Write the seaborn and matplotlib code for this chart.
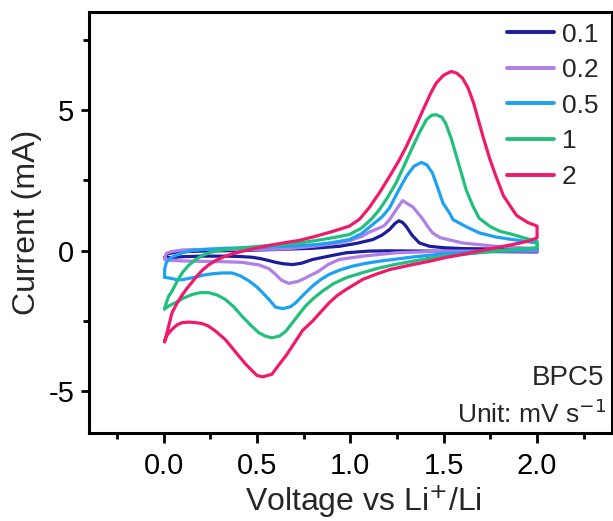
import numpy as np
import pandas as pd
import matplotlib
matplotlib.use("Agg")
import matplotlib.pyplot as plt
import seaborn as sns
from matplotlib.ticker import MultipleLocator, FixedLocator

rates = ["0.1", "0.2", "0.5", "1", "2"]
colors = ["#1c1c9c", "#b07fe8", "#1da1f2", "#22c07c", "#ef1a6b"]

# scan rate 0.1 mV/s (anodic branch, then cathodic branch)
v01 = [0.005, 0.02, 0.07, 0.2, 0.4, 0.618, 0.8, 0.94, 1.03, 1.12, 1.17, 1.21, 1.24, 1.26, 1.28, 1.30, 1.33, 1.37, 1.425, 1.5, 1.6, 1.8, 2.0,
       2.0, 1.8, 1.6, 1.4, 1.2, 1.1, 0.977, 0.9, 0.797, 0.74, 0.69, 0.64, 0.6, 0.565, 0.52, 0.475, 0.4, 0.33, 0.2, 0.1, 0.04, 0.005]
i01 = [-0.25, -0.12, -0.05, -0.02, 0.0, 0.04, 0.08, 0.15, 0.25, 0.39, 0.55, 0.75, 0.97, 1.06, 1.0, 0.85, 0.55, 0.27, 0.15, 0.1, 0.07, 0.05, 0.04,
       -0.05, -0.04, -0.03, -0.02, -0.01, -0.02, -0.08, -0.18, -0.32, -0.45, -0.5, -0.47, -0.42, -0.36, -0.29, -0.24, -0.21, -0.2, -0.2, -0.22, -0.25, -0.25]

# scan rate 0.2 mV/s
v02 = [0.005, 0.015, 0.04, 0.1, 0.2, 0.45, 0.636, 0.80, 0.94, 1.0, 1.06, 1.10, 1.14, 1.18, 1.21, 1.245, 1.28, 1.31, 1.335, 1.36, 1.39, 1.415, 1.44, 1.48, 1.6, 1.78, 2.0,
       2.0, 1.8, 1.5, 1.245, 1.066, 0.94, 0.88, 0.83, 0.797, 0.76, 0.72, 0.67, 0.63, 0.6, 0.565, 0.51, 0.457, 0.42, 0.33, 0.24, 0.1, 0.04, 0.005]
i02 = [-0.3, -0.1, -0.04, 0.02, 0.04, 0.04, 0.05, 0.15, 0.27, 0.36, 0.5, 0.65, 0.76, 0.88, 1.1, 1.45, 1.78, 1.65, 1.55, 1.35, 1.1, 0.85, 0.63, 0.46, 0.27, 0.15, 0.06,
       -0.02, -0.02, -0.02, -0.08, -0.2, -0.32, -0.5, -0.74, -0.85, -0.98, -1.1, -1.17, -1.05, -0.85, -0.65, -0.51, -0.46, -0.42, -0.4, -0.39, -0.37, -0.35, -0.3]

# scan rate 0.5 mV/s
v05 = [0.005, 0.006, 0.015, 0.04, 0.063, 0.1, 0.152, 0.24, 0.33, 0.45, 0.547, 0.68, 0.815, 0.90, 0.995, 1.06, 1.12, 1.17, 1.21, 1.255, 1.30, 1.34, 1.38, 1.41, 1.44, 1.47, 1.496, 1.53, 1.55, 1.62, 1.69, 1.78, 1.87, 2.0,
       2.0, 1.87, 1.69, 1.51, 1.335, 1.156, 1.08, 1.01, 0.95, 0.887, 0.84, 0.797, 0.75, 0.708, 0.68, 0.64, 0.60, 0.565, 0.53, 0.50, 0.457, 0.41, 0.367, 0.31, 0.26, 0.21, 0.17, 0.13, 0.098, 0.07, 0.045, 0.02, 0.005]
i05 = [-0.95, -0.65, -0.42, -0.25, -0.18, -0.08, 0.0, 0.05, 0.08, 0.1, 0.12, 0.16, 0.21, 0.28, 0.39, 0.6, 0.93, 1.2, 1.52, 2.1, 2.64, 3.0, 3.14, 3.05, 2.76, 2.2, 1.69, 1.35, 1.1, 0.85, 0.63, 0.48, 0.39, 0.27,
       0.04, 0.0, -0.04, -0.11, -0.23, -0.38, -0.46, -0.56, -0.68, -0.85, -1.04, -1.27, -1.57, -1.86, -2.0, -2.07, -2.02, -1.75, -1.5, -1.3, -1.08, -0.9, -0.8, -0.8, -0.83, -0.88, -0.95, -1.0, -1.04, -1.04, -1.0, -0.97, -0.95]

# scan rate 1 mV/s
v1 = [0.005, 0.015, 0.027, 0.045, 0.08, 0.105, 0.134, 0.17, 0.206, 0.25, 0.296, 0.36, 0.42, 0.565, 0.64, 0.726, 0.81, 0.90, 0.995, 1.06, 1.11, 1.156, 1.20, 1.245, 1.29, 1.335, 1.37, 1.407, 1.435, 1.46, 1.49, 1.51, 1.54, 1.568, 1.595, 1.62, 1.655, 1.69, 1.75, 1.80, 1.87, 1.93, 2.0,
      2.0, 1.87, 1.78, 1.69, 1.60, 1.51, 1.42, 1.335, 1.245, 1.156, 1.07, 0.977, 0.91, 0.85, 0.80, 0.76, 0.71, 0.654, 0.62, 0.58, 0.545, 0.51, 0.465, 0.42, 0.375, 0.33, 0.285, 0.24, 0.195, 0.152, 0.105, 0.063, 0.03, 0.005]
i1 = [-2.08, -1.85, -1.63, -1.45, -1.0, -0.75, -0.53, -0.33, -0.18, -0.07, 0.0, 0.06, 0.1, 0.18, 0.22, 0.27, 0.35, 0.45, 0.57, 0.8, 1.1, 1.46, 1.9, 2.41, 3.05, 3.71, 4.2, 4.66, 4.82, 4.84, 4.75, 4.54, 4.0, 3.36, 2.75, 2.17, 1.6, 1.15, 0.85, 0.69, 0.57, 0.45, 0.33,
      0.1, 0.04, -0.02, -0.08, -0.14, -0.2, -0.28, -0.38, -0.49, -0.62, -0.78, -0.97, -1.18, -1.45, -1.72, -1.98, -2.4, -2.88, -3.05, -3.11, -3.05, -2.93, -2.65, -2.34, -2.0, -1.74, -1.58, -1.5, -1.5, -1.57, -1.7, -1.86, -1.97, -2.08]

# scan rate 2 mV/s
v2 = [0.005, 0.025, 0.045, 0.07, 0.098, 0.125, 0.152, 0.18, 0.206, 0.24, 0.278, 0.32, 0.367, 0.42, 0.475, 0.565, 0.64, 0.726, 0.81, 0.905, 0.995, 1.05, 1.10, 1.155, 1.21, 1.26, 1.30, 1.345, 1.39, 1.43, 1.46, 1.50, 1.54, 1.57, 1.60, 1.63, 1.66, 1.71, 1.745, 1.78, 1.82, 1.855, 1.89, 1.95, 2.0,
      2.0, 1.96, 1.91, 1.85, 1.78, 1.69, 1.60, 1.51, 1.425, 1.32, 1.21, 1.14, 1.066, 0.977, 0.93, 0.887, 0.84, 0.80, 0.744, 0.70, 0.654, 0.62, 0.58, 0.53, 0.50, 0.475, 0.44, 0.403, 0.365, 0.33, 0.28, 0.24, 0.205, 0.17, 0.135, 0.098, 0.07, 0.045, 0.02, 0.005]
i2 = [-3.26, -2.75, -2.22, -1.9, -1.6, -1.35, -1.13, -0.9, -0.71, -0.52, -0.36, -0.23, -0.12, -0.03, 0.06, 0.18, 0.27, 0.36, 0.5, 0.68, 0.87, 1.12, 1.52, 2.05, 2.64, 3.2, 3.71, 4.35, 5.02, 5.6, 5.97, 6.25, 6.38, 6.32, 6.15, 5.8, 5.26, 4.07, 3.3, 2.64, 1.95, 1.60, 1.25, 1.0, 0.87,
      0.45, 0.35, 0.27, 0.19, 0.1, -0.02, -0.14, -0.25, -0.38, -0.52, -0.68, -0.84, -1.03, -1.39, -1.6, -1.86, -2.2, -2.5, -2.85, -3.3, -3.76, -4.05, -4.41, -4.5, -4.45, -4.29, -4.05, -3.76, -3.45, -3.17, -2.88, -2.69, -2.6, -2.57, -2.55, -2.57, -2.66, -2.81, -3.0, -3.23]

volts = [v01, v02, v05, v1, v2]
currents = [i01, i02, i05, i1, i2]

frames = []
for r, v, c in zip(rates, volts, currents):
    frames.append(pd.DataFrame({"V": v, "I": c, "rate": r, "idx": np.arange(len(v))}))
df = pd.concat(frames, ignore_index=True)

sns.set_theme(style="white")
plt.rcParams["font.family"] = ["Liberation Sans", "DejaVu Sans"]

fig = plt.figure(figsize=(6.13, 5.21), dpi=100)
ax = fig.add_axes([0.145, 0.169, 0.853, 0.808])

sns.lineplot(data=df, x="V", y="I", hue="rate", hue_order=rates,
             palette=dict(zip(rates, colors)), sort=False, estimator=None,
             linewidth=2.3, ax=ax)

ax.set_xlim(-0.4, 2.4)
ax.set_ylim(-6.5, 8.5)
ax.xaxis.set_major_locator(FixedLocator([0.0, 0.5, 1.0, 1.5, 2.0]))
ax.xaxis.set_minor_locator(MultipleLocator(0.25))
ax.yaxis.set_major_locator(FixedLocator([-5, 0, 5]))
ax.yaxis.set_minor_locator(MultipleLocator(2.5))
ax.set_xticklabels(["0.0", "0.5", "1.0", "1.5", "2.0"])
ax.set_yticklabels(["-5", "0", "5"])

ax.tick_params(which="both", direction="out", bottom=True, left=True, top=False, right=False,
               width=2.0, colors="black", labelsize=21)
ax.tick_params(axis="x", which="major", length=7, pad=7)
ax.tick_params(axis="x", which="minor", length=4)
ax.tick_params(axis="y", which="major", length=5.5, pad=5)
ax.tick_params(axis="y", which="minor", length=4.5)
for s in ax.spines.values():
    s.set_linewidth(2.2)
    s.set_color("black")

ax.set_xlabel("Voltage vs Li$^{+}$/Li", fontsize=23)
ax.set_ylabel("Current (mA)", fontsize=23)
ax.xaxis.set_label_coords(0.526, -0.117)
ax.yaxis.set_label_coords(-0.09, 0.5)

sns.move_legend(ax, loc="upper right", bbox_to_anchor=(0.975, 0.975), frameon=False, title=None,
                fontsize=19, handlelength=1.8, handletextpad=0.3, labelspacing=0.44,
                borderaxespad=0, borderpad=0)
for line in ax.get_legend().get_lines():
    line.set_linewidth(2.8)

ax.text(0.985, 0.13, "BPC5", transform=ax.transAxes, ha="right", va="center", fontsize=20)
ax.text(0.99, 0.045, "Unit: mV s$^{-1}$", transform=ax.transAxes, ha="right", va="center", fontsize=19)

fig.savefig("out.png", dpi=100, facecolor="white")
